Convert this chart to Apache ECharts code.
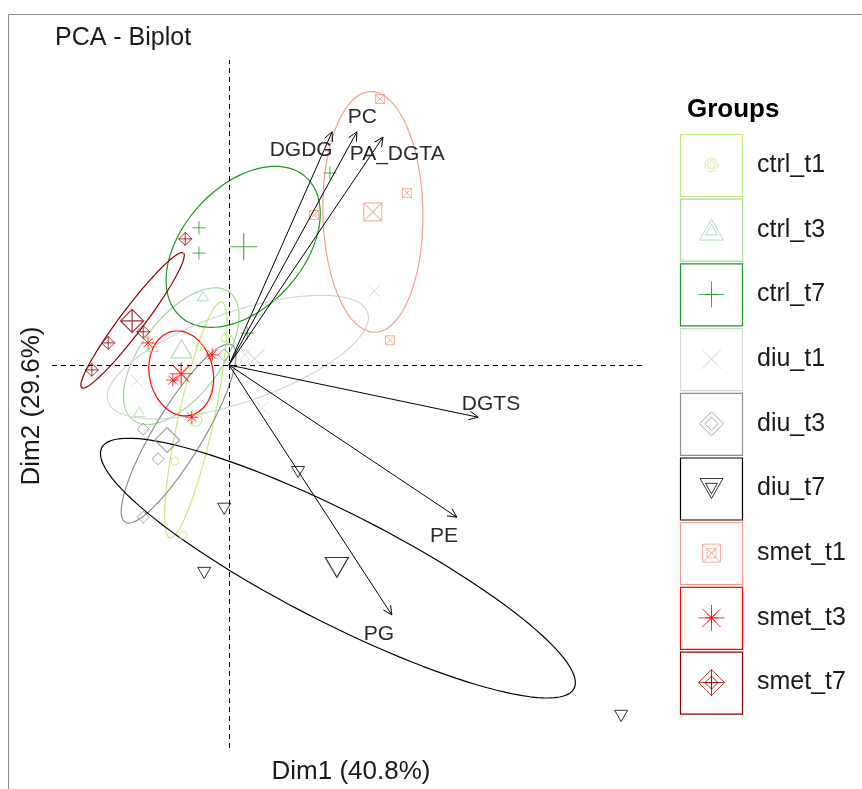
<!DOCTYPE html>
<html>
<head>
<meta charset="utf-8">
<script src="https://cdn.jsdelivr.net/npm/echarts/dist/echarts.min.js"></script>
<style>html,body{margin:0;padding:0;background:#fff}#main{width:862px;height:789px}</style>
</head>
<body>
<div id="main"></div>
<script>
const groups = ['ctrl_t1','ctrl_t3','ctrl_t7','diu_t1','diu_t3','diu_t7','smet_t1','smet_t3','smet_t7'];
const groupColors = ['#c3eb7c','#a5d59f','#1f961f','#cfd8d6','#8e8e8e','#000000','#f0a28c','#ff0000','#8b0000'];

// individual coordinates (Dim1, Dim2)
const ctrl_t1 = [[-0.66,0.41],[-1.22,-2.17],[-1.04,-3.84],[-0.09,0.61]];
const ctrl_t3 = [[-0.59,1.56],[-1.72,0.41],[-2.03,-1.06],[0.05,0.56]];
const ctrl_t7 = [[-0.68,3.10],[-0.68,2.53],[2.28,4.34],[0.41,0.72]];
const diu_t1 = [[3.28,1.67],[-2.08,-0.36],[0.75,-0.97],[0.36,0.23]];
const diu_t3 = [[-1.94,-1.45],[-1.60,-2.12],[-1.94,-3.44],[-0.11,0.23]];
const diu_t7 = [[1.56,-2.42],[-0.11,-3.25],[-0.56,-4.70],[8.86,-7.93]];
const smet_t1 = [[3.41,6.01],[4.02,3.89],[1.92,3.39],[3.64,0.56]];
const smet_t3 = [[-1.83,0.50],[-0.38,0.23],[-1.27,-0.34],[-0.84,-1.18]];
const smet_t7 = [[-0.99,2.85],[-1.94,0.75],[-2.73,0.50],[-3.10,-0.11]];
const groupPoints = [ctrl_t1, ctrl_t3, ctrl_t7, diu_t1, diu_t3, diu_t7, smet_t1, smet_t3, smet_t7];

// ellipses: centre, semi axes, angle (deg)
const ellipseCenter = [[-0.75,-1.24],[-1.08,0.20],[0.32,2.67],[0.20,0.18],[-1.14,-1.55],[2.46,-4.59],[3.25,3.46],[-1.08,-0.19],[-2.18,1.01]];
const ellipseAxes = [[2.73,0.40],[1.81,0.90],[2.12,1.36],[3.10,1.02],[2.34,0.55],[5.99,1.24],[2.72,1.13],[0.97,0.72],[1.91,0.27]];
const ellipseAngle = [77.6,53,48,19,58.9,-27,91,102,53];

// variables
const varNames = ['DGDG','PC','PA_DGTA','DGTS','PE','PG'];
const varDim1 = [2.33,2.89,3.48,5.63,5.15,3.68];
const varDim2 = [5.27,5.27,5.15,-1.18,-3.44,-5.65];
const labelDim1 = [1.63,3.01,3.80,5.92,4.86,3.39];
const labelDim2 = [4.86,5.60,4.77,-0.88,-3.86,-6.08];

const FONT = '"Liberation Sans", Arial, sans-serif';
const shapes = [
  'M10,5A5,5,0,1,1,0,5A5,5,0,1,1,10,5Z',
  'M5,0L10,8.66L0,8.66Z',
  'M5,0L5,10M0,5L10,5',
  'M0,0L10,10M10,0L0,10',
  'M5,0L10,5L5,10L0,5Z',
  'M0,0L10,0L5,8.66Z',
  'M0,0L10,0L10,10L0,10ZM0,0L10,10M10,0L0,10',
  'M5,0L5,10M0,5L10,5M1.5,1.5L8.5,8.5M8.5,1.5L1.5,8.5',
  'M5,0L10,5L5,10L0,5ZM5,0L5,10M0,5L10,5'
];
const smallSize = [8,11,13,12,12,13,9,13,13];
const meanSize = [12,21,27,20,25,23,18,23,23];
const legendSmall = [8,12,13,13,13,12,9,13,13];
const legendBig = [13,24,26,20,24,23,18,26,26];

function ellipse(c, ax, deg) {
  const t = deg * Math.PI / 180, pts = [];
  for (let k = 0; k <= 120; k++) {
    const s = 2 * Math.PI * k / 120;
    const u = ax[0] * Math.cos(s), v = ax[1] * Math.sin(s);
    pts.push([c[0] + u * Math.cos(t) - v * Math.sin(t), c[1] + u * Math.sin(t) + v * Math.cos(t)]);
  }
  return pts;
}
function mean(pts) {
  let sx = 0, sy = 0;
  pts.forEach(p => { sx += p[0]; sy += p[1]; });
  return [sx / pts.length, sy / pts.length];
}
function sym(i, size, bw) {
  return {
    symbol: 'path://' + shapes[i], symbolSize: size, symbolKeepAspect: true,
    itemStyle: {color: 'transparent', borderColor: groupColors[i], borderWidth: bw}
  };
}

const series = [];
// dashed zero lines
series.push({
  type: 'line', data: [], silent: true,
  markLine: {
    silent: true, symbol: ['none', 'none'], label: {show: false},
    lineStyle: {type: [5, 4], color: '#000', width: 1},
    emphasis: {disabled: true},
    data: [{xAxis: 0}, {yAxis: 0}]
  }
});
groups.forEach((g, i) => {
  series.push({
    type: 'line', name: g, data: ellipse(ellipseCenter[i], ellipseAxes[i], ellipseAngle[i]),
    showSymbol: false, symbol: 'none', smooth: false, silent: true, z: 2,
    lineStyle: {color: groupColors[i], width: 1.2}
  });
  series.push(Object.assign({type: 'scatter', name: g, data: groupPoints[i], silent: true, z: 3}, sym(i, smallSize[i], 1)));
  series.push(Object.assign({type: 'scatter', name: g, data: [mean(groupPoints[i])], silent: true, z: 3}, sym(i, meanSize[i], 1.2)));
  // legend keys
  series.push(Object.assign({type: 'scatter', xAxisIndex: 1, yAxisIndex: 1, data: [[0.5, i]], silent: true}, sym(i, legendSmall[i], 1)));
  series.push(Object.assign({type: 'scatter', xAxisIndex: 1, yAxisIndex: 1, data: [[0.5, i]], silent: true}, sym(i, legendBig[i], 1)));
});
// variable arrows
series.push({
  type: 'custom', silent: true, z: 4,
  data: varDim1.map((x, i) => [x, varDim2[i]]),
  renderItem: (params, api) => {
    const o = api.coord([0, 0]);
    const e = api.coord([api.value(0), api.value(1)]);
    const ang = Math.atan2(e[1] - o[1], e[0] - o[0]);
    const h = 10, w = Math.PI / 7;
    const p1 = [e[0] - h * Math.cos(ang - w), e[1] - h * Math.sin(ang - w)];
    const p2 = [e[0] - h * Math.cos(ang + w), e[1] - h * Math.sin(ang + w)];
    return {type: 'group', children: [
      {type: 'line', shape: {x1: o[0], y1: o[1], x2: e[0], y2: e[1]}, style: {stroke: '#000', lineWidth: 1}},
      {type: 'polyline', shape: {points: [p1, e, p2]}, style: {stroke: '#000', fill: null, lineWidth: 1}}
    ]};
  }
});
// variable labels
series.push({
  type: 'custom', silent: true, z: 5,
  data: labelDim1.map((x, i) => [x, labelDim2[i]]),
  renderItem: (params, api) => {
    const p = api.coord([api.value(0), api.value(1)]);
    return {type: 'text', x: p[0], y: p[1], style: {
      text: varNames[params.dataIndex], font: '21px ' + FONT, fill: '#2b2b2b',
      align: 'center', verticalAlign: 'middle'}};
  }
});

const graphics = [
  {type: 'rect', shape: {x: 8.5, y: 14.5, width: 900, height: 900}, style: {fill: null, stroke: '#8c8c8c', lineWidth: 1}, silent: true},
  {type: 'text', x: 55, y: 38, style: {text: 'PCA - Biplot', font: '25px ' + FONT, fill: '#1a1a1a', verticalAlign: 'middle'}},
  {type: 'text', x: 351, y: 772, style: {text: 'Dim1 (40.8%)', font: '26px ' + FONT, fill: '#1a1a1a', align: 'center', verticalAlign: 'middle'}},
  {type: 'text', x: 32, y: 406, rotation: Math.PI / 2, style: {text: 'Dim2 (29.6%)', font: '26px ' + FONT, fill: '#1a1a1a', align: 'center', verticalAlign: 'middle'}},
  {type: 'text', x: 687, y: 110, style: {text: 'Groups', font: 'bold 26px ' + FONT, fill: '#000', verticalAlign: 'middle'}}
];
groups.forEach((g, i) => {
  const top = 134 + i * 64.7, cy = top + 31;
  graphics.push({type: 'rect', shape: {x: 680.5, y: top + 0.5, width: 62, height: 62}, style: {fill: null, stroke: groupColors[i], lineWidth: 1.2}, silent: true});
  graphics.push({type: 'text', x: 757, y: cy, style: {text: g, font: '25px ' + FONT, fill: '#1a1a1a', verticalAlign: 'middle'}});
});

const chart = echarts.init(document.getElementById('main'));
chart.setOption({
  animation: false,
  backgroundColor: '#fff',
  grid: [
    {left: 52, right: 217, top: 60, bottom: 41},
    {left: 680, width: 63, top: 132.65, height: 582.3}
  ],
  xAxis: [
    {type: 'value', min: -4, max: 9.4, show: false},
    {type: 'value', min: 0, max: 1, show: false, gridIndex: 1}
  ],
  yAxis: [
    {type: 'value', min: -8.655, max: 6.893, show: false},
    {type: 'value', min: -0.5, max: 8.5, inverse: true, show: false, gridIndex: 1}
  ],
  series: series,
  graphic: graphics
});
</script>
</body>
</html>
